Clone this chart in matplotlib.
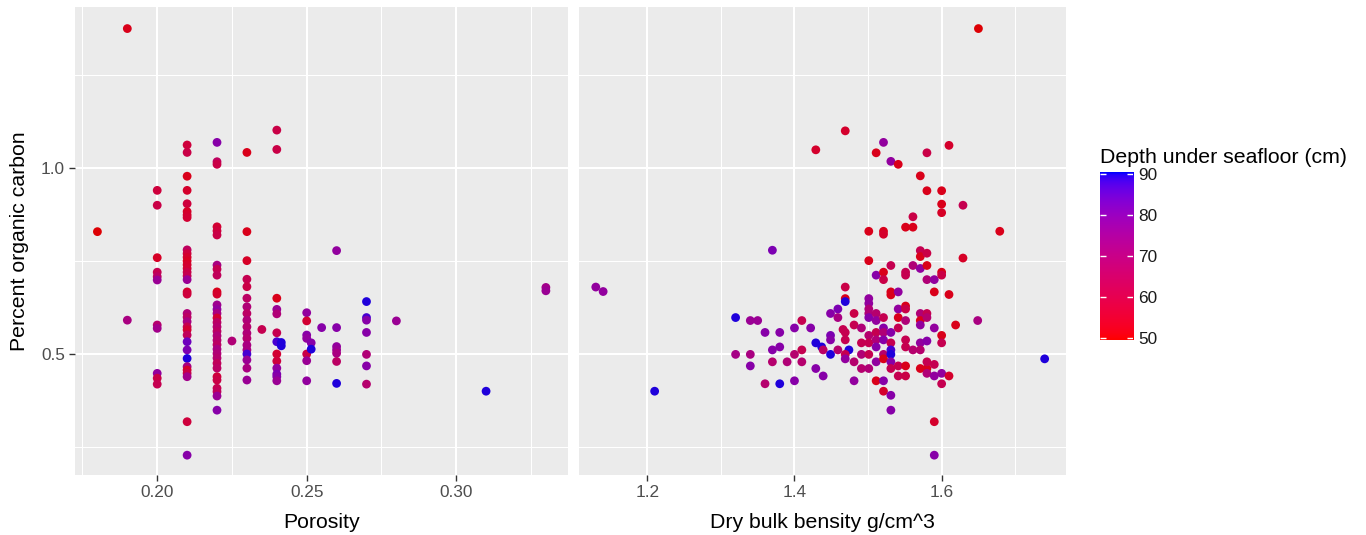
import numpy as np
import matplotlib
matplotlib.use("Agg")
import matplotlib.pyplot as plt
from matplotlib.colors import ListedColormap, Normalize

plt.rcParams['font.family'] = ['Liberation Sans', 'DejaVu Sans']

# ---------------- data: porosity panel ----------------
por_x = [0.18,
         0.19, 0.19,
         0.20, 0.20, 0.20, 0.20, 0.20, 0.20, 0.20, 0.20, 0.20, 0.20, 0.20,
         0.21, 0.21, 0.21, 0.21, 0.21, 0.21, 0.21, 0.21, 0.21, 0.21, 0.21, 0.21, 0.21, 0.21,
         0.21, 0.21, 0.21, 0.21, 0.21, 0.21, 0.21, 0.21, 0.21, 0.21, 0.21, 0.21, 0.21, 0.21,
         0.21, 0.21, 0.21, 0.21, 0.21, 0.21,
         0.22, 0.22, 0.22, 0.22, 0.22, 0.22, 0.22, 0.22, 0.22, 0.22, 0.22, 0.22, 0.22, 0.22,
         0.22, 0.22, 0.22, 0.22, 0.22, 0.22, 0.22, 0.22, 0.22, 0.22, 0.22, 0.22, 0.22, 0.22,
         0.22, 0.22, 0.22, 0.22,
         0.225,
         0.23, 0.23, 0.23, 0.23, 0.23, 0.23, 0.23, 0.23, 0.23, 0.23, 0.23, 0.23, 0.23, 0.23,
         0.23, 0.23, 0.23, 0.23,
         0.235,
         0.24, 0.24, 0.24, 0.24, 0.24, 0.24, 0.24, 0.24, 0.24, 0.24, 0.24, 0.24, 0.24,
         0.2415, 0.2415,
         0.25, 0.25, 0.25, 0.25, 0.25, 0.25, 0.25,
         0.2515, 0.2515,
         0.255,
         0.26, 0.26, 0.26, 0.26, 0.26, 0.26, 0.26,
         0.27, 0.27, 0.27, 0.27, 0.27, 0.27, 0.27,
         0.28, 0.31, 0.33, 0.33]
por_c = [0.829,
         1.375, 0.591,
         0.940, 0.900, 0.759, 0.720, 0.708, 0.699, 0.578, 0.569, 0.448, 0.435, 0.419,
         1.062, 1.042, 0.978, 0.940, 0.904, 0.883, 0.874, 0.867, 0.780, 0.770, 0.760, 0.750, 0.740, 0.730,
         0.720, 0.710, 0.700, 0.667, 0.661, 0.609, 0.599, 0.587, 0.573, 0.565, 0.551, 0.533, 0.511, 0.488,
         0.466, 0.457, 0.448, 0.439, 0.318, 0.228,
         1.069, 1.017, 1.010, 0.842, 0.831, 0.820, 0.739, 0.728, 0.712, 0.667, 0.661, 0.632, 0.620, 0.609,
         0.597, 0.585, 0.573, 0.561, 0.549, 0.537, 0.525, 0.513, 0.501, 0.489, 0.475, 0.462, 0.439, 0.430,
         0.408, 0.399, 0.387, 0.349,
         0.535,
         1.042, 0.829, 0.751, 0.701, 0.681, 0.650, 0.627, 0.609, 0.591, 0.573, 0.556, 0.542, 0.524, 0.511,
         0.500, 0.484, 0.462, 0.430,
         0.566,
         1.102, 1.050, 0.650, 0.620, 0.608, 0.557, 0.533, 0.500, 0.481, 0.462, 0.446, 0.439, 0.428,
         0.531, 0.522,
         0.611, 0.589, 0.551, 0.542, 0.500, 0.482, 0.428,
         0.530, 0.513,
         0.571,
         0.778, 0.571, 0.520, 0.511, 0.502, 0.480, 0.421,
         0.641, 0.598, 0.591, 0.558, 0.499, 0.468, 0.419,
         0.589, 0.400, 0.679, 0.670]
por_depth = [50,
             52, 72,
             58, 60, 54, 62, 66, 76, 68, 74, 78, 60, 62,
             58, 60, 52, 55, 58, 54, 55, 56, 65, 58, 55, 53, 55, 56,
             60, 62, 76, 55, 58, 70, 66, 72, 62, 56, 64, 84, 82, 90,
             72, 55, 60, 74, 58, 80,
             80, 65, 60, 56, 58, 60, 72, 62, 64, 52, 55, 75, 78, 72,
             56, 66, 68, 66, 70, 68, 66, 72, 70, 68, 64, 66, 58, 60,
             62, 64, 76, 80,
             70,
             52, 52, 54, 62, 60, 66, 70, 66, 70, 68, 70, 68, 72, 72,
             88, 76, 72, 76,
             62,
             60, 60, 52, 76, 70, 62, 88, 56, 58, 78, 82, 80, 76,
             90, 90,
             78, 56, 80, 78, 60, 76, 78,
             80, 90,
             80,
             78, 80, 78, 76, 72, 66, 90,
             90, 88, 80, 80, 70, 80, 68,
             76, 90, 74, 76]

# ---------------- data: dry bulk density panel ----------------
den_x = [1.130, 1.140, 1.210, 1.320, 1.340, 1.350, 1.370, 1.320, 1.340, 1.340,
         1.360, 1.380, 1.370, 1.380, 1.360, 1.380, 1.370, 1.390, 1.400, 1.400,
         1.400, 1.410, 1.410, 1.410, 1.422, 1.429, 1.429, 1.437, 1.429, 1.439,
         1.439, 1.449, 1.459, 1.459, 1.449, 1.449, 1.449, 1.459, 1.469, 1.469,
         1.469, 1.469, 1.466, 1.469, 1.469, 1.474, 1.469, 1.469, 1.481, 1.481,
         1.481, 1.481, 1.491, 1.491, 1.491, 1.491, 1.501, 1.501, 1.501, 1.501,
         1.501, 1.501, 1.501, 1.501, 1.501, 1.501, 1.501, 1.511, 1.511, 1.511,
         1.511, 1.511, 1.511, 1.511, 1.511, 1.511, 1.521, 1.521, 1.521, 1.521,
         1.521, 1.521, 1.521, 1.521, 1.521, 1.521, 1.521, 1.521, 1.521, 1.531,
         1.541, 1.531, 1.531, 1.531, 1.541, 1.531, 1.531, 1.531, 1.531, 1.531,
         1.531, 1.531, 1.531, 1.541, 1.541, 1.541, 1.541, 1.541, 1.551, 1.561,
         1.561, 1.551, 1.551, 1.561, 1.551, 1.551, 1.551, 1.551, 1.551, 1.561,
         1.551, 1.551, 1.571, 1.580, 1.580, 1.571, 1.571, 1.580, 1.571, 1.580,
         1.580, 1.590, 1.571, 1.580, 1.571, 1.571, 1.590, 1.571, 1.580, 1.571,
         1.571, 1.580, 1.580, 1.590, 1.580, 1.590, 1.590, 1.590, 1.590, 1.600,
         1.600, 1.600, 1.600, 1.600, 1.600, 1.600, 1.600, 1.600, 1.610, 1.610,
         1.610, 1.619, 1.629, 1.629, 1.649, 1.679, 1.740, 1.650, 1.580]
den_c = [0.680, 0.668, 0.400, 0.598, 0.590, 0.590, 0.779, 0.499, 0.499, 0.468,
         0.558, 0.558, 0.511, 0.519, 0.420, 0.420, 0.479, 0.479, 0.570, 0.499,
         0.428, 0.590, 0.511, 0.479, 0.570, 1.049, 0.530, 0.519, 0.461, 0.441,
         0.511, 0.609, 0.621, 0.598, 0.550, 0.538, 0.499, 0.511, 1.100, 0.680,
         0.649, 0.641, 0.566, 0.558, 0.538, 0.511, 0.499, 0.487, 0.609, 0.578,
         0.479, 0.428, 0.570, 0.530, 0.499, 0.461, 0.830, 0.751, 0.649, 0.636,
         0.621, 0.609, 0.598, 0.550, 0.530, 0.499, 0.461, 1.041, 0.712, 0.609,
         0.590, 0.558, 0.538, 0.519, 0.479, 0.428, 1.069, 0.830, 0.822, 0.720,
         0.700, 0.598, 0.570, 0.558, 0.538, 0.499, 0.487, 0.428, 0.400, 1.018,
         1.010, 0.738, 0.667, 0.659, 0.667, 0.558, 0.530, 0.511, 0.499, 0.479,
         0.461, 0.389, 0.349, 0.621, 0.598, 0.570, 0.468, 0.441, 0.841, 0.841,
         0.869, 0.720, 0.712, 0.738, 0.629, 0.621, 0.590, 0.538, 0.519, 0.511,
         0.468, 0.441, 0.979, 1.041, 0.939, 0.778, 0.762, 0.771, 0.730, 0.738,
         0.700, 0.700, 0.609, 0.609, 0.590, 0.578, 0.570, 0.530, 0.535, 0.511,
         0.461, 0.461, 0.479, 0.472, 0.448, 0.441, 0.667, 0.318, 0.228, 0.939,
         0.903, 0.880, 0.720, 0.712, 0.550, 0.530, 0.448, 0.420, 1.061, 0.660,
         0.441, 0.578, 0.900, 0.758, 0.590, 0.830, 0.487, 1.375, 0.598]
den_depth = [78, 78, 90, 90, 76, 76, 82, 73, 72, 80,
             80, 80, 80, 80, 68, 90, 68, 70, 80, 68,
             80, 62, 62, 68, 80, 55, 90, 90, 80, 80,
             66, 80, 82, 72, 82, 80, 90, 68, 55, 60,
             52, 90, 62, 62, 62, 90, 62, 78, 60, 62,
             68, 78, 70, 62, 70, 68, 52, 52, 78, 78,
             70, 70, 80, 68, 62, 62, 70, 52, 80, 68,
             78, 62, 70, 80, 78, 52, 78, 52, 55, 52,
             60, 62, 80, 70, 80, 68, 52, 80, 55, 78,
             52, 62, 52, 52, 78, 80, 62, 88, 90, 80,
             62, 80, 80, 78, 52, 62, 62, 62, 52, 52,
             60, 62, 62, 70, 52, 60, 70, 62, 62, 68,
             52, 60, 52, 60, 52, 62, 52, 60, 78, 52,
             70, 78, 70, 62, 52, 78, 78, 78, 80, 68,
             52, 52, 62, 62, 70, 78, 52, 55, 80, 52,
             52, 54, 52, 60, 52, 62, 78, 62, 55, 52,
             55, 52, 62, 54, 72, 52, 90, 50, 68]

panel_xlabels = ["Porosity", "Dry bulk bensity g/cm^3"]
y_label = "Percent organic carbon"
legend_title = "Depth under seafloor (cm)"
depth_ticks = [50, 60, 70, 80, 90]


# ---------------- colour scale: red -> blue interpolated in Lab ----------------
def srgb_to_lab(rgb):
    rgb = np.asarray(rgb, float)
    lin = np.where(rgb <= 0.04045, rgb / 12.92, ((rgb + 0.055) / 1.055) ** 2.4)
    M = np.array([[0.4124564, 0.3575761, 0.1804375],
                  [0.2126729, 0.7151522, 0.0721750],
                  [0.0193339, 0.1191920, 0.9503041]])
    xyz = M @ lin / np.array([0.95047, 1.0, 1.08883])
    f = np.where(xyz > 0.008856, np.cbrt(xyz), 7.787 * xyz + 16 / 116)
    return np.array([116 * f[1] - 16, 500 * (f[0] - f[1]), 200 * (f[1] - f[2])])


def lab_to_srgb(lab):
    L, a, b = lab
    fy = (L + 16) / 116
    fx = fy + a / 500
    fz = fy - b / 200
    f = np.array([fx, fy, fz])
    xyz = np.where(f ** 3 > 0.008856, f ** 3, (f - 16 / 116) / 7.787)
    xyz = xyz * np.array([0.95047, 1.0, 1.08883])
    Minv = np.array([[3.2404542, -1.5371385, -0.4985314],
                     [-0.9692660, 1.8760108, 0.0415560],
                     [0.0556434, -0.2040259, 1.0572252]])
    lin = np.clip(Minv @ xyz, 0, 1)
    rgb = np.where(lin <= 0.0031308, 12.92 * lin, 1.055 * lin ** (1 / 2.4) - 0.055)
    return np.clip(rgb, 0, 1)


lab_lo = srgb_to_lab([1, 0, 0])
lab_hi = srgb_to_lab([0, 0, 1])
cols = np.array([lab_to_srgb(lab_lo + t * (lab_hi - lab_lo)) for t in np.linspace(0, 1, 256)])
cmap = ListedColormap(cols)
# points in the reference render slightly deeper than the legend bar
cmap_pts = ListedColormap(cols * 0.87)
vmin, vmax = 49.6, 90.5
norm = Normalize(vmin=vmin, vmax=vmax)

# ---------------- figure ----------------
W, H = 1366, 535
fig = plt.figure(figsize=(W / 100, H / 100), dpi=100)
fig.patch.set_facecolor('white')


def box(x0, y0, x1, y1):
    return [x0 / W, 1 - y1 / H, (x1 - x0) / W, (y1 - y0) / H]


ax1 = fig.add_axes(box(75, 7, 568.3, 475))
ax2 = fig.add_axes(box(579.3, 7, 1066, 475))

ylim = (0.1747, 1.433)
panels = [
    (ax1, por_x, por_c, por_depth, (0.1725, 0.3375), [0.20, 0.25, 0.30], [0.175, 0.225, 0.275, 0.325],
     ["0.20", "0.25", "0.30"]),
    (ax2, den_x, den_c, den_depth, (1.1076, 1.769), [1.2, 1.4, 1.6], [1.3, 1.5, 1.7],
     ["1.2", "1.4", "1.6"]),
]
for i, (ax, xs, cs, ds, xl, maj, mnr, lab) in enumerate(panels):
    ax.set_facecolor('#EBEBEB')
    for s in ax.spines.values():
        s.set_visible(False)
    ax.scatter(xs, cs, c=ds, cmap=cmap_pts, norm=norm, s=40, linewidths=0, zorder=3)
    ax.set_xlim(*xl)
    ax.set_ylim(*ylim)
    ax.set_xticks(maj)
    ax.set_xticklabels(lab)
    ax.set_xticks(mnr, minor=True)
    ax.set_yticks([0.5, 1.0])
    ax.set_yticks([0.25, 0.75, 1.25], minor=True)
    ax.grid(which='major', color='white', linewidth=1.45, zorder=0)
    ax.grid(which='minor', color='white', linewidth=0.75, zorder=0)
    ax.set_axisbelow(True)
    ax.tick_params(which='major', length=4.2, width=1.0, color='#333333',
                   labelsize=12.4, labelcolor='#4D4D4D', pad=3.0)
    ax.tick_params(which='minor', length=0)
    if i == 0:
        ax.set_yticklabels(["0.5", "1.0"])
    else:
        ax.tick_params(axis='y', which='both', left=False, labelleft=False)

fig.text((75 + 568.3) / 2 / W, 1 - 522 / H, panel_xlabels[0], ha='center', va='center',
         fontsize=15.3, color='black')
fig.text((579.3 + 1066) / 2 / W, 1 - 522 / H, panel_xlabels[1], ha='center', va='center',
         fontsize=15.3, color='black')
fig.text(20 / W, 1 - 241 / H, y_label, rotation=90, ha='center', va='center',
         fontsize=15.3, color='black')

# ---------------- colourbar legend ----------------
cax = fig.add_axes(box(1099.8, 172.3, 1133.3, 340))
grad = np.linspace(vmin, vmax, 300).reshape(-1, 1)
cax.imshow(grad, cmap=cmap, norm=norm, aspect='auto', origin='lower',
           extent=(0, 1, vmin, vmax), interpolation='bilinear')
cax.set_xlim(0, 1)
cax.set_ylim(vmin, vmax)
for s in cax.spines.values():
    s.set_visible(False)
cax.set_xticks([])
for v in depth_ticks:
    cax.plot([0, 0.19], [v, v], color='white', lw=1.0, solid_capstyle='butt')
    cax.plot([0.81, 1], [v, v], color='white', lw=1.0, solid_capstyle='butt')
cax.yaxis.tick_right()
cax.set_yticks(depth_ticks)
cax.set_yticklabels([str(v) for v in depth_ticks])
cax.tick_params(axis='y', length=0, pad=3.5, labelsize=12.4, labelcolor='#1A1A1A')

fig.text(1100 / W, 1 - 163 / H, legend_title, ha='left', va='baseline',
         fontsize=15.3, color='black')

fig.savefig('out.png', dpi=100, facecolor='white')
